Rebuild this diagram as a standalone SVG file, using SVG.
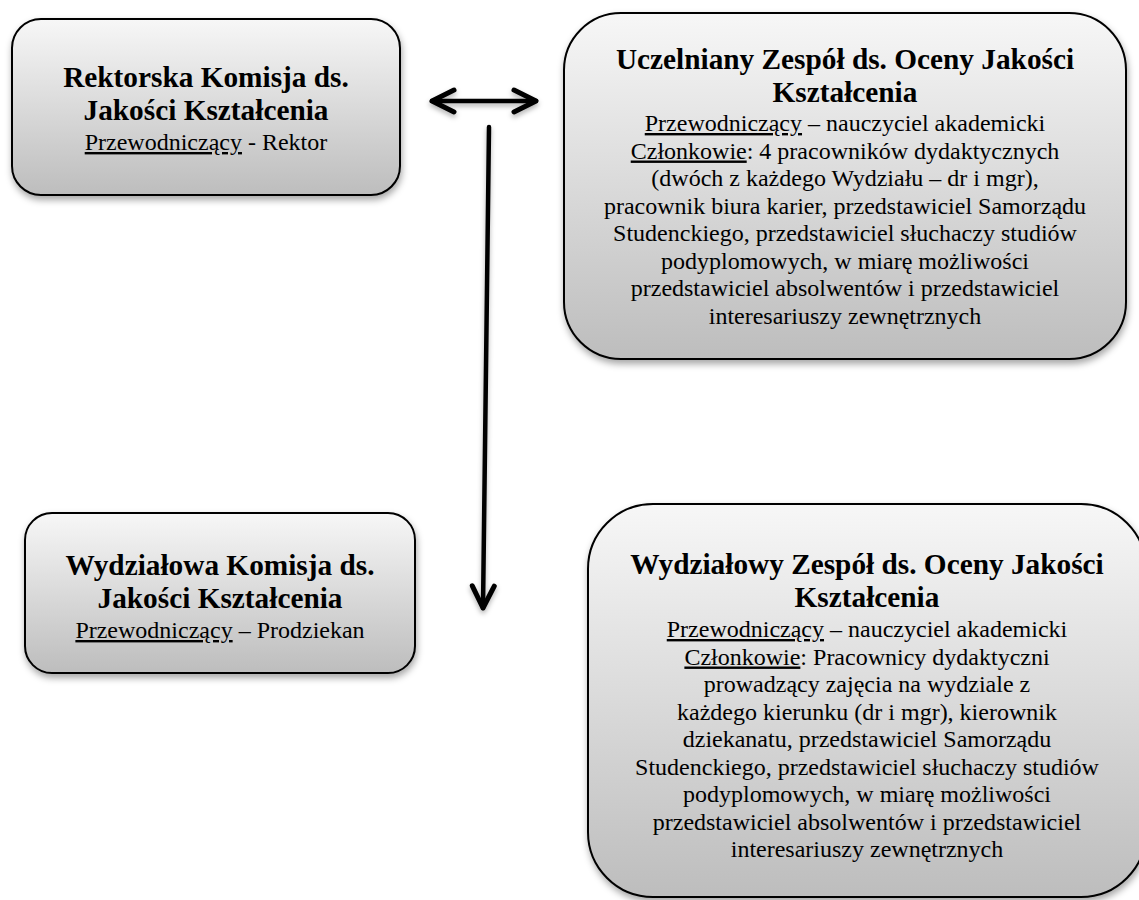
<svg xmlns="http://www.w3.org/2000/svg" width="1139" height="900" viewBox="0 0 1139 900">
<style>
.box{stroke:#000;stroke-width:2;fill:url(#g);filter:url(#sh)}
.t{font-family:"Liberation Serif","Times New Roman",serif;font-size:29.3px;font-weight:bold;fill:#000;text-anchor:middle}
.b{font-family:"Liberation Serif","Times New Roman",serif;font-size:24px;fill:#000;text-anchor:middle}
.u{text-decoration:underline;text-decoration-skip-ink:none}
.c{stroke:#000;stroke-width:4.5;fill:none;stroke-linecap:round;filter:url(#sh2)}
</style>
<defs>
<linearGradient id="g" x1="0" y1="0" x2="0" y2="1">
<stop offset="0" stop-color="#f7f7f7"/>
<stop offset="1" stop-color="#bdbdbd"/>
</linearGradient>
<filter id="sh" x="-10%" y="-10%" width="120%" height="130%">
<feDropShadow dx="1" dy="4" stdDeviation="3.5" flood-color="#000" flood-opacity="0.35"/>
</filter>
<filter id="sh2" filterUnits="userSpaceOnUse" x="0" y="0" width="1139" height="900">
<feDropShadow dx="0" dy="3" stdDeviation="2.5" flood-color="#000" flood-opacity="0.3"/>
</filter>
<marker id="ah" markerUnits="userSpaceOnUse" viewBox="-4 -4 32 30" markerWidth="32" markerHeight="30" refX="22" refY="11" orient="auto-start-reverse">
<path d="M0,0 L22,11 L0,22" fill="none" stroke="#000" stroke-width="5" stroke-linecap="round" stroke-linejoin="round"/>
</marker>
</defs>

<g id="connectors">
<path class="c" d="M432,101 L536,101" marker-start="url(#ah)" marker-end="url(#ah)"/>
<path class="c" d="M489,127 L483,608" marker-end="url(#ah)"/>
</g>

<g id="rektorska">
<rect class="box" x="12" y="19" width="388" height="176" rx="29" ry="29"/>
<text class="t" x="206" y="87">Rektorska Komisja ds.</text>
<text class="t" x="206" y="120">Jakości Kształcenia</text>
<text class="b" x="206" y="150"><tspan class="u">Przewodniczący</tspan> - Rektor</text>
</g>

<g id="uczelniany">
<rect class="box" x="564" y="13" width="562" height="346" rx="57" ry="57"/>
<text class="t" x="845" y="69">Uczelniany Zespół ds. Oceny Jakości</text>
<text class="t" x="845" y="102">Kształcenia</text>
<text class="b" x="845" y="131"><tspan class="u">Przewodniczący</tspan> – nauczyciel akademicki</text>
<text class="b" x="845" y="158.5"><tspan class="u">Członkowie</tspan>: 4 pracowników dydaktycznych</text>
<text class="b" x="845" y="186">(dwóch z każdego Wydziału – dr i mgr),</text>
<text class="b" x="845" y="213.5">pracownik biura karier, przedstawiciel Samorządu</text>
<text class="b" x="845" y="241">Studenckiego, przedstawiciel słuchaczy studiów</text>
<text class="b" x="845" y="268.5">podyplomowych, w miarę możliwości</text>
<text class="b" x="845" y="296">przedstawiciel absolwentów i przedstawiciel</text>
<text class="b" x="845" y="323.5">interesariuszy zewnętrznych</text>
</g>

<g id="wydzialowa">
<rect class="box" x="25" y="513" width="390" height="160" rx="27" ry="27"/>
<text class="t" x="220" y="575">Wydziałowa Komisja ds.</text>
<text class="t" x="220" y="608">Jakości Kształcenia</text>
<text class="b" x="220" y="638"><tspan class="u">Przewodniczący</tspan> – Prodziekan</text>
</g>

<g id="wydzialowy">
<rect class="box" x="588" y="504" width="558" height="393" rx="65" ry="65"/>
<text class="t" x="867" y="574">Wydziałowy Zespół ds. Oceny Jakości</text>
<text class="t" x="867" y="607">Kształcenia</text>
<text class="b" x="867" y="637"><tspan class="u">Przewodniczący</tspan> – nauczyciel akademicki</text>
<text class="b" x="867" y="664.5"><tspan class="u">Członkowie</tspan>: Pracownicy dydaktyczni</text>
<text class="b" x="867" y="692">prowadzący zajęcia na wydziale z</text>
<text class="b" x="867" y="719.5">każdego kierunku (dr i mgr), kierownik</text>
<text class="b" x="867" y="747">dziekanatu, przedstawiciel Samorządu</text>
<text class="b" x="867" y="774.5">Studenckiego, przedstawiciel słuchaczy studiów</text>
<text class="b" x="867" y="802">podyplomowych, w miarę możliwości</text>
<text class="b" x="867" y="829.5">przedstawiciel absolwentów i przedstawiciel</text>
<text class="b" x="867" y="857">interesariuszy zewnętrznych</text>
</g>
</svg>
